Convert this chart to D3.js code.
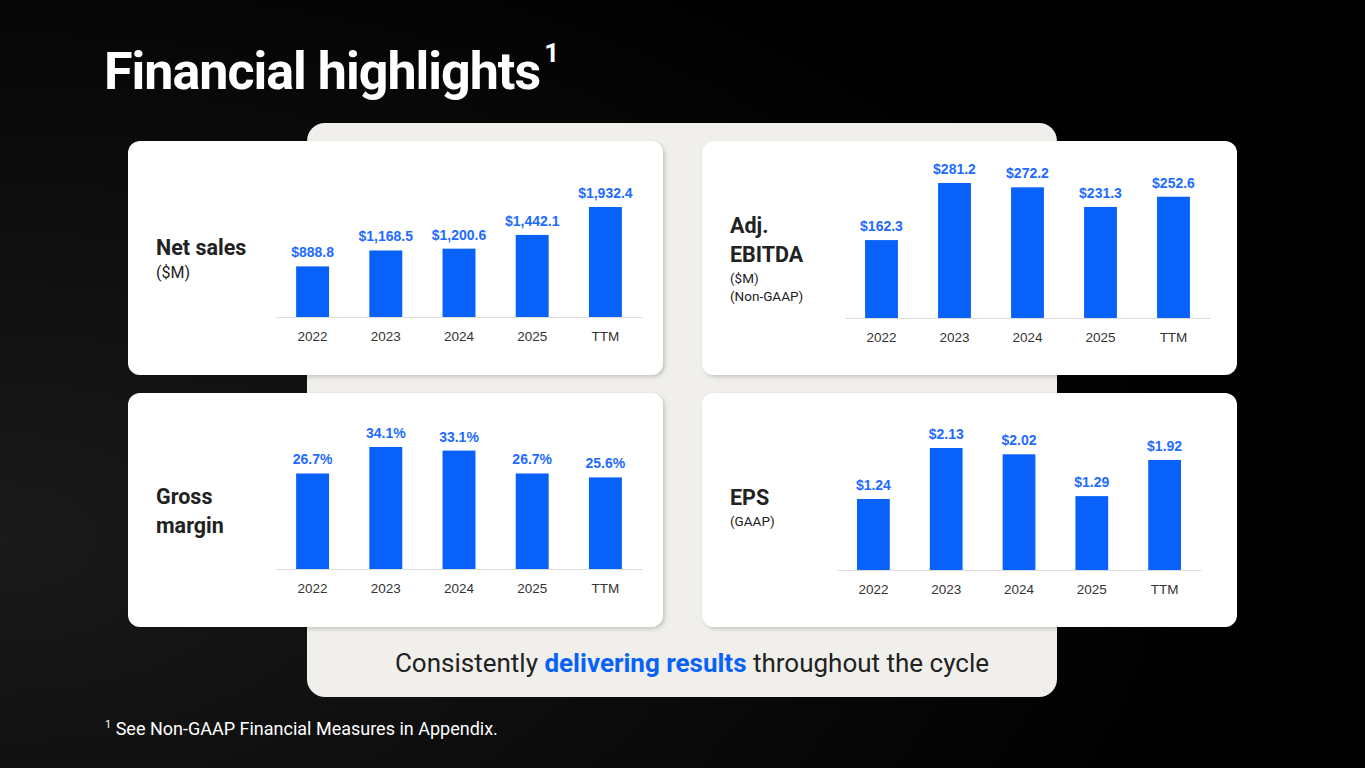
<!DOCTYPE html>
<html>
<head>
<meta charset="utf-8">
<script src="https://cdn.jsdelivr.net/npm/d3@7"></script>
<style>
  html, body { margin: 0; padding: 0; background: #000; }
  svg { display: block; }
  .axis path.domain { stroke: #dcdcdc; stroke-width: 1.2; }
  .axis text { font-family: "Liberation Sans", Arial, sans-serif; font-size: 13.5px; fill: #333; }
  .val { font-family: "Liberation Sans", Arial, sans-serif; font-weight: bold; font-size: 14px; fill: #1f6bff; text-anchor: middle; }
</style>
</head>
<body>
<script>
// data
var years = ["2022", "2023", "2024", "2025", "TTM"];
var netSales = [888.8, 1168.5, 1200.6, 1442.1, 1932.4];
var adjEbitda = [162.3, 281.2, 272.2, 231.3, 252.6];
var grossMargin = [26.7, 34.1, 33.1, 26.7, 25.6];
var eps = [1.24, 2.13, 2.02, 1.29, 1.92];

var width = 1365;
var height = 768;
var blue = "#0862fa";

var svg = d3.select("body").append("svg")
  .attr("width", width)
  .attr("height", height);

var defs = svg.append("defs");
var bg = defs.append("radialGradient")
  .attr("id", "bg")
  .attr("cx", "0%").attr("cy", "70%").attr("r", "90%");
bg.append("stop").attr("offset", "0%").attr("stop-color", "#1a1a1a");
bg.append("stop").attr("offset", "100%").attr("stop-color", "#000");

var shadow = defs.append("filter").attr("id", "shadow")
  .attr("x", "-5%").attr("y", "-5%").attr("width", "110%").attr("height", "115%");
shadow.append("feDropShadow")
  .attr("dx", 2).attr("dy", 2).attr("stdDeviation", 2)
  .attr("flood-color", "#000").attr("flood-opacity", 0.18);

//background
svg.append("rect")
  .attr("width", width).attr("height", height)
  .attr("fill", "url(#bg)");

//title
var title = svg.append("text")
  .attr("x", 104).attr("y", 89)
  .attr("fill", "#fff")
  .style("font-family", "Roboto, sans-serif")
  .style("font-weight", "bold")
  .style("font-size", "52px")
  .style("letter-spacing", "-1px")
  .text("Financial highlights");
title.append("tspan")
  .attr("dx", 4).attr("dy", -27)
  .style("font-size", "26px")
  .style("letter-spacing", "0")
  .text("1");

//beige backdrop
svg.append("rect")
  .attr("x", 307).attr("y", 123)
  .attr("width", 750).attr("height", 574)
  .attr("rx", 18)
  .attr("fill", "#f0efeb");

//panels
var panels = [
  {values: netSales, fmt: function (v) { return "$" + d3.format(",.1f")(v); },
   card: [128, 141], axis: [276, 642], base: 317, maxH: 110,
   labels: [{t: "Net sales", y: 255, b: true}, {t: "($M)", y: 278}]},
  {values: adjEbitda, fmt: function (v) { return "$" + d3.format(",.1f")(v); },
   card: [702, 141], axis: [845, 1210], base: 318, maxH: 135,
   labels: [{t: "Adj.", y: 233, b: true}, {t: "EBITDA", y: 262, b: true},
            {t: "($M)", y: 283, s: true}, {t: "(Non-GAAP)", y: 301, s: true}]},
  {values: grossMargin, fmt: function (v) { return d3.format(".1f")(v) + "%"; },
   card: [128, 393], axis: [276, 642], base: 569, maxH: 122,
   labels: [{t: "Gross", y: 504, b: true}, {t: "margin", y: 533, b: true}]},
  {values: eps, fmt: function (v) { return "$" + d3.format(".2f")(v); },
   card: [702, 393], axis: [837, 1201], base: 570, maxH: 122,
   labels: [{t: "EPS", y: 505, b: true}, {t: "(GAAP)", y: 526, s: true}]}
];

panels.forEach(function (p) {
  var g = svg.append("g");
  g.append("rect")
    .attr("x", p.card[0]).attr("y", p.card[1])
    .attr("width", 535).attr("height", 234)
    .attr("rx", 12)
    .attr("fill", "#fff")
    .attr("filter", "url(#shadow)");

  g.selectAll(".plabel")
    .data(p.labels)
    .enter().append("text")
    .attr("class", "plabel")
    .attr("x", p.card[0] + 28)
    .attr("y", function (d) { return d.y; })
    .attr("fill", "#222")
    .style("font-family", "Roboto, sans-serif")
    .style("font-weight", function (d) { return d.b ? "bold" : "normal"; })
    .style("font-size", function (d) { return d.b ? "21.5px" : (d.s ? "13.5px" : "16px"); })
    .text(function (d) { return d.t; });

  var x = d3.scaleBand()
    .domain(years)
    .range(p.axis)
    .paddingInner(0.55)
    .paddingOuter(0.275);
  var y = d3.scaleLinear()
    .domain([0, d3.max(p.values)])
    .range([p.base, p.base - p.maxH]);

  var data = years.map(function (yr, i) { return {k: yr, v: p.values[i]}; });

  g.append("g")
    .attr("class", "axis")
    .attr("transform", "translate(0," + p.base + ")")
    .call(d3.axisBottom(x).tickSizeInner(0).tickSizeOuter(0).tickPadding(14))
    .selectAll(".tick line").remove();

  g.selectAll(".bar")
    .data(data)
    .enter().append("rect")
    .attr("class", "bar")
    .attr("x", function (d) { return x(d.k); })
    .attr("width", x.bandwidth())
    .attr("y", function (d) { return y(d.v); })
    .attr("height", function (d) { return p.base - y(d.v); })
    .attr("fill", blue);

  g.selectAll(".val")
    .data(data)
    .enter().append("text")
    .attr("class", "val")
    .attr("x", function (d) { return x(d.k) + x.bandwidth() / 2; })
    .attr("y", function (d) { return y(d.v) - 9; })
    .text(function (d) { return p.fmt(d.v); });
});

//tagline
var tag = svg.append("text")
  .attr("x", 692).attr("y", 672)
  .attr("text-anchor", "middle")
  .attr("fill", "#222")
  .style("font-family", "Roboto, sans-serif")
  .style("font-size", "26px");
tag.append("tspan").text("Consistently ");
tag.append("tspan").attr("fill", blue).style("font-weight", "bold").text("delivering results");
tag.append("tspan").text(" throughout the cycle");

//footnote
var foot = svg.append("text")
  .attr("x", 105).attr("y", 735)
  .attr("fill", "#fff")
  .style("font-family", "Roboto, sans-serif")
  .style("font-size", "18px");
foot.append("tspan").attr("dy", -7).style("font-size", "11px").text("1");
foot.append("tspan").attr("dy", 7).text(" See Non-GAAP Financial Measures in Appendix.");
</script>
</body>
</html>
